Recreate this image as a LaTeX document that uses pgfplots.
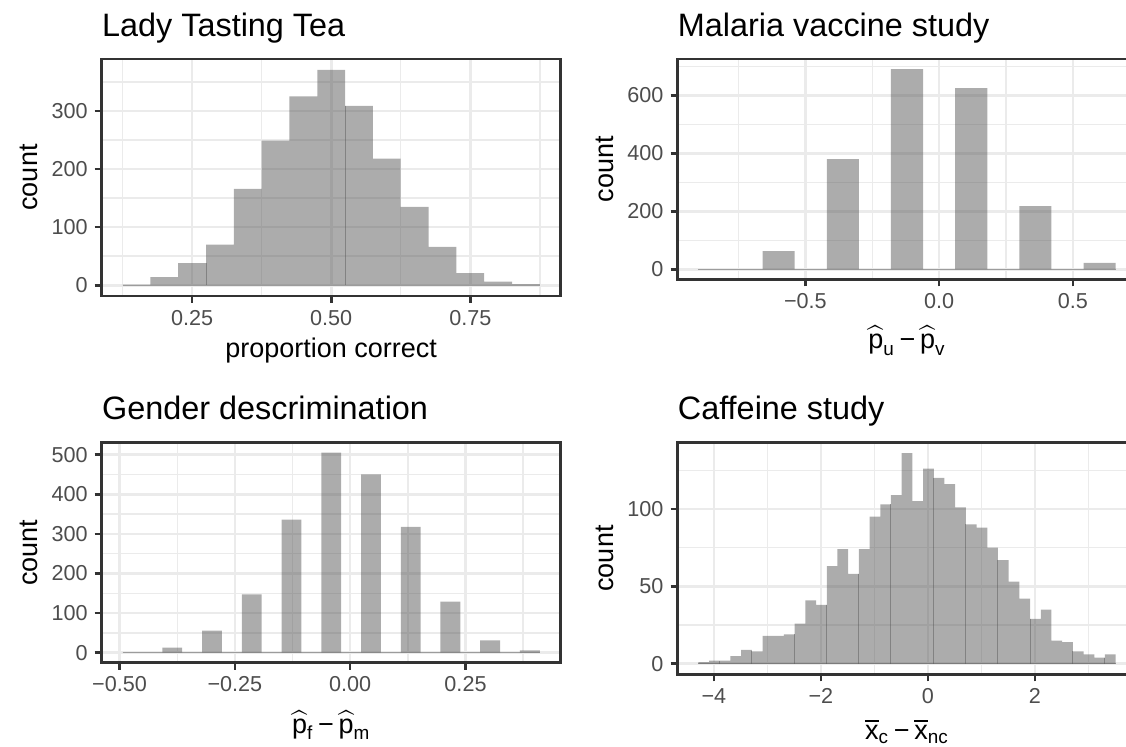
\documentclass[border=0pt]{standalone}
\usepackage{fontspec}
\setmainfont{Liberation Sans}
\usepackage{amsmath}
\usepackage{pgfplots}
\pgfplotsset{compat=1.18}

\definecolor{grid92}{RGB}{235,235,235}
\definecolor{grey20}{RGB}{51,51,51}
\definecolor{grey30}{RGB}{77,77,77}
\definecolor{grey35}{RGB}{89,89,89}

\newcommand{\tminus}{\mkern3mu\text{−}\mkern3mu}

\pgfplotsset{
  hist/.style={
    scale only axis, width=229.5pt, anchor=north west,
    axis line style={grey20, line width=1.3pt},
    tick align=outside, tick pos=left,
    major tick length=3.5pt, minor tick length=0pt,
    tick style={grey20, line width=1.3pt},
    grid=both,
    major grid style={grid92, line width=1.3pt},
    minor grid style={grid92, line width=0.7pt},
    tick label style={font=\fontsize{10.8}{12}\selectfont, text=grey30},
  },
  bars/.style={ybar interval, fill=grey35, fill opacity=0.5, draw=none},
  edge/.style={ycomb, draw=grey35, draw opacity=0.5, line width=0.5pt, mark=none},
  base/.style={draw=grey35, draw opacity=0.5, line width=0.6pt, mark=none},
}

\begin{document}
\begin{tikzpicture}
\useasboundingbox (0,0) rectangle (563pt,-373.5pt);

% Lady Tasting Tea
\begin{axis}[hist, at={(50.85pt,-29.5pt)}, height=118.5pt,
  xmin=0.0875, xmax=0.9125, ymin=-18.55, ymax=389.55,
  xtick={0.25,0.5,0.75}, xticklabels={0.25,0.50,0.75},
  minor xtick={0.125,0.375,0.625,0.875},
  ytick={0,100,200,300}, yticklabels={0,100,200,300},
  minor ytick={50,150,250,350}]
\addplot[base] coordinates {(0.125,0) (0.875,0)};
\addplot[bars] coordinates {(0.125,1) (0.175,14) (0.225,38) (0.275,70) (0.325,166)
  (0.375,249) (0.425,325) (0.475,371) (0.525,309) (0.575,218) (0.625,135)
  (0.675,66) (0.725,21) (0.775,6) (0.825,2) (0.875,0)};
\addplot[edge] coordinates {(0.275,38) (0.525,309)};
\end{axis}

% Malaria vaccine study
\begin{axis}[hist, at={(338.75pt,-29.5pt)}, height=110.15pt,
  xmin=-0.978, xmax=0.738, ymin=-34.55, ymax=725.55,
  xtick={-0.5,0,0.5}, xticklabels={−0.5,0.0,0.5},
  minor xtick={-0.75,-0.25,0.25,0.75},
  ytick={0,200,400,600}, yticklabels={0,200,400,600},
  minor ytick={100,300,500,700}]
\addplot[base] coordinates {(-0.9,0) (0.66,0)};
\addplot[bars] coordinates {(-0.90,0) (-0.78,0) (-0.66,63) (-0.54,0) (-0.42,380)
  (-0.30,0) (-0.18,691) (-0.06,0) (0.06,625) (0.18,0) (0.30,218) (0.42,0)
  (0.54,22) (0.66,0)};
\end{axis}

% Gender descrimination
\begin{axis}[hist, at={(50.85pt,-221.35pt)}, height=110pt,
  xmin=-0.5387, xmax=0.4564, ymin=-25.25, ymax=530.25,
  xtick={-0.5,-0.25,0,0.25}, xticklabels={−0.50,−0.25,0.00,0.25},
  minor xtick={-0.375,-0.125,0.125,0.375},
  ytick={0,100,200,300,400,500}, yticklabels={0,100,200,300,400,500},
  minor ytick={50,150,250,350,450}]
\addplot[base] coordinates {(-0.4935,0) (0.41118,0)};
\addplot[bars] coordinates {(-0.4935,0) (-0.45042,0) (-0.40734,13) (-0.36426,0)
  (-0.32118,56) (-0.2781,0) (-0.23502,147) (-0.19194,0) (-0.14886,336)
  (-0.10578,0) (-0.0627,505) (-0.01962,0) (0.02346,450) (0.06654,0)
  (0.10962,318) (0.1527,0) (0.19578,129) (0.23886,0) (0.28194,31)
  (0.32502,0) (0.3681,6) (0.41118,0)};
\end{axis}

% Caffeine study
\begin{axis}[hist, at={(338.75pt,-221.35pt)}, height=115.8pt,
  xmin=-4.68, xmax=3.90, ymin=-6.8, ymax=142.8,
  xtick={-4,-2,0,2}, xticklabels={−4,−2,0,2},
  minor xtick={-3,-1,1,3},
  ytick={0,50,100}, yticklabels={0,50,100},
  minor ytick={25,75,125}]
\addplot[base] coordinates {(-4.29,0) (3.51,0)};
\addplot[bars] coordinates {(-4.29,1) (-4.09,2) (-3.89,2) (-3.69,5) (-3.49,9)
  (-3.29,8) (-3.09,18) (-2.89,18) (-2.69,19) (-2.49,26) (-2.29,41) (-2.09,38)
  (-1.89,63) (-1.69,74) (-1.49,58) (-1.29,74) (-1.09,95) (-0.89,103)
  (-0.69,109) (-0.49,136) (-0.29,105) (-0.09,126) (0.11,120) (0.31,116)
  (0.51,101) (0.71,90) (0.91,88) (1.11,75) (1.31,67) (1.51,53) (1.71,42)
  (1.91,29) (2.11,35) (2.31,15) (2.51,14) (2.71,8) (2.91,6) (3.11,4)
  (3.31,6) (3.51,0)};
\addplot[edge] coordinates {(-3.89,2) (-3.29,8) (-2.49,19) (-1.89,38) (-1.29,58)
  (-0.69,103) (0.11,120) (0.71,90) (1.31,67) (1.91,29) (2.71,8) (3.31,4)};
\end{axis}

% titles
\begin{scope}[every node/.style={anchor=base west, inner sep=0pt,
    font=\fontsize{16.2}{19}\selectfont}]
\node at (50.85pt,-18.35pt) {Lady Tasting Tea};
\node at (338.75pt,-18.35pt) {Malaria vaccine study};
\node at (50.85pt,-209.65pt) {Gender descrimination};
\node at (338.75pt,-209.65pt) {Caffeine study};
\end{scope}

% axis titles
\begin{scope}[every node/.style={anchor=base, inner sep=0pt,
    font=\fontsize{13.5}{16}\selectfont}]
\node at (165.6pt,-178.65pt) {proportion correct};
\node at (453.5pt,-174.5pt) {$\widehat{\text{p}}_{\text{u}}\tminus\widehat{\text{p}}_{\text{v}}$};
\node at (165.6pt,-366.65pt) {$\widehat{\text{p}}_{\text{f}}\tminus\widehat{\text{p}}_{\text{m}}$};
\node at (453.5pt,-369.65pt) {$\overline{\text{x}}_{\text{c}}\tminus\overline{\text{x}}_{\text{nc}}$};
\node[rotate=90] at (18.6pt,-88.75pt) {count};
\node[rotate=90] at (306.5pt,-84.6pt) {count};
\node[rotate=90] at (18.6pt,-276.35pt) {count};
\node[rotate=90] at (306.5pt,-279.25pt) {count};
\end{scope}
\end{tikzpicture}
\end{document}
